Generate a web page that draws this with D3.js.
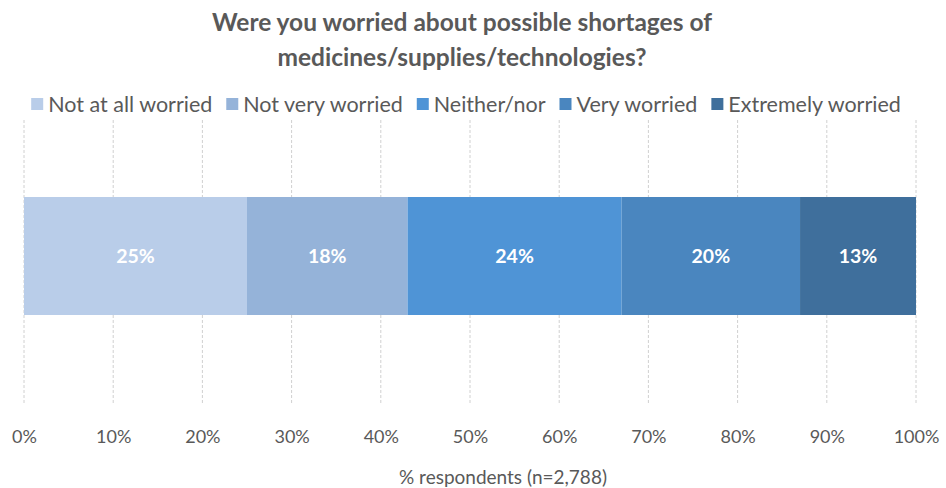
<!DOCTYPE html>
<html><head><meta charset="utf-8">
<script src="https://cdn.jsdelivr.net/npm/d3@7"></script>
<style>body{margin:0;background:#fff}svg{display:block}</style>
</head><body><svg id="c" width="946" height="488"></svg>
<script>
const categories = ["Not at all worried","Not very worried","Neither/nor","Very worried","Extremely worried"];
const values = [25,18,24,20,13];
const colors = ["#b9cde9","#95b3d9","#4f94d6","#4a86bf","#3f6f9c"];
const ticks = [0,10,20,30,40,50,60,70,80,90,100];
const titleLines = ["Were you worried about possible shortages of","medicines/supplies/technologies?"];
const axisTitle = "% respondents (n=2,788)";

const font = "Lato, 'Open Sans', sans-serif";
const svg = d3.select("#c");
const x = d3.scaleLinear().domain([0,100]).range([24,916]);

// title
svg.selectAll("text.title").data(titleLines).join("text")
  .attr("x",462).attr("y",(d,i)=>31+i*35).attr("text-anchor","middle")
  .attr("font-family",font).attr("font-weight","bold").attr("font-size",24.5)
  .attr("fill","#595959").text(d=>d);

// gridlines
svg.append("g").selectAll("line").data(ticks).join("line")
  .attr("x1",d=>x(d)).attr("x2",d=>x(d)).attr("y1",120).attr("y2",405)
  .attr("stroke","#d0d0d0").attr("stroke-width",1).attr("stroke-dasharray","3,2");

// bars
let cum=0;
const stack = values.map((v,i)=>{const s={cat:categories[i],v,x0:cum,x1:cum+v,c:colors[i]};cum+=v;return s;});
svg.append("g").selectAll("rect").data(stack).join("rect")
  .attr("x",d=>x(d.x0)).attr("width",d=>x(d.x1)-x(d.x0))
  .attr("y",197).attr("height",118).attr("fill",d=>d.c);
svg.append("g").selectAll("text").data(stack).join("text")
  .attr("x",d=>(x(d.x0)+x(d.x1))/2).attr("y",256).attr("dy","0.35em")
  .attr("text-anchor","middle").attr("font-family",font).attr("font-weight","bold")
  .attr("font-size",19.5).attr("fill","#fff").text(d=>d.v+"%");

// axis tick labels
const axis = d3.axisBottom(x).tickValues(ticks).tickFormat(d=>d+"%").tickSize(0).tickPadding(0);
const ag = svg.append("g").attr("transform","translate(0,430)").call(axis);
ag.select(".domain").remove();
ag.selectAll("text").attr("font-family",font).attr("font-size",18).attr("fill","#595959").attr("dy","0.35em").attr("y",7);

svg.append("text").attr("x",503).attr("y",484).attr("text-anchor","middle")
  .attr("font-family",font).attr("font-size",19).attr("fill","#595959").text(axisTitle);

// legend
const lg = svg.append("g");
const items = lg.selectAll("g").data(categories).join("g");
items.append("rect").attr("width",12).attr("height",12).attr("y",-6).attr("fill",(d,i)=>colors[i]);
items.append("text").attr("x",17).attr("dy","0.35em").attr("font-family",font).attr("font-size",21.5)
  .attr("fill","#595959").text(d=>d);
let off=0; const gap=14;
items.each(function(){ d3.select(this).attr("transform",`translate(${off},0)`); off += 17 + d3.select(this).select("text").node().getComputedTextLength() + gap; });
const total = off-gap;
lg.attr("transform",`translate(${466-total/2},104)`);
</script></body></html>
